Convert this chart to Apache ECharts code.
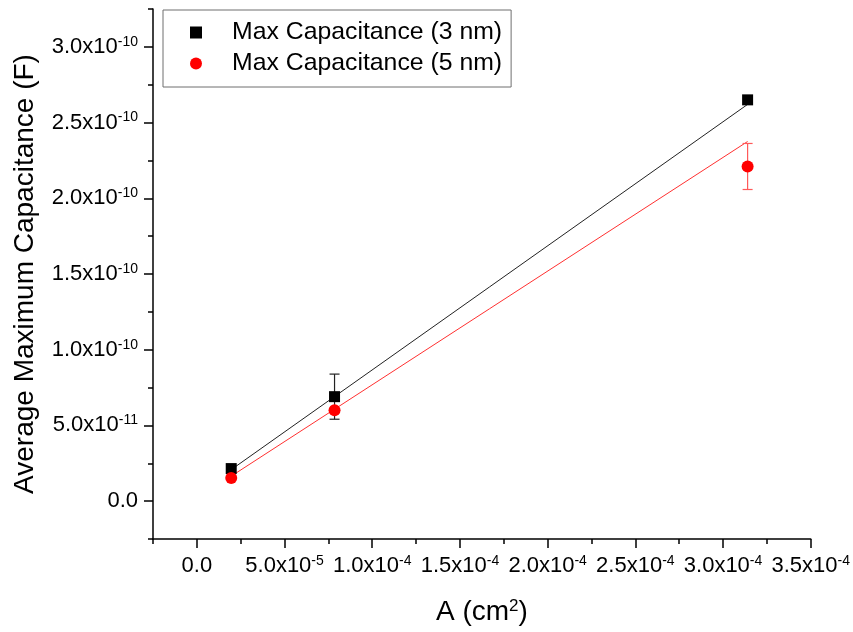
<!DOCTYPE html>
<html><head><meta charset="utf-8">
<script src="https://cdn.jsdelivr.net/npm/echarts@6/dist/echarts.min.js"></script>
<style>html,body{margin:0;padding:0;background:#fff}#c{width:853px;height:632px}</style>
</head><body><div id="c"></div>
<script>
// ---- data ----
const seriesNames = ['Max Capacitance (3 nm)', 'Max Capacitance (5 nm)'];
const areas = [1.96e-5, 7.85e-5, 3.14e-4];
const cap3nm = [2.15e-11, 6.9e-11, 2.65e-10];
const cap5nm = [1.53e-11, 6.0e-11, 2.21e-10];
const err3nm = [0, 1.49e-11, 0];
const err5nm = [0, 0, 1.52e-11];
const fitX = [1.96e-5, 3.14e-4];
const fit3nm = [2.08e-11, 2.62e-10];
const fit5nm = [1.65e-11, 2.375e-10];
const xMajorTicks = [0, 5e-5, 1e-4, 1.5e-4, 2e-4, 2.5e-4, 3e-4, 3.5e-4];
const xMinorTicks = [-2.5e-5, 2.5e-5, 7.5e-5, 1.25e-4, 1.75e-4, 2.25e-4, 2.75e-4, 3.25e-4];
const yMajorTicks = [0, 5e-11, 1e-10, 1.5e-10, 2e-10, 2.5e-10, 3e-10];
const yMinorTicks = [-2.5e-11, 2.5e-11, 7.5e-11, 1.25e-10, 1.75e-10, 2.25e-10, 2.75e-10, 3.25e-10];
const xTitle = 'A (cm{s|2})';
const yTitle = 'Average Maximum Capacitance (F)';

// ---- helpers ----
const FONT = 'Liberation Sans, Arial, sans-serif';
function sci(v) {
  if (Math.abs(v) < 1e-20) return '{m|0.0}';
  const e = Math.floor(Math.log10(Math.abs(v)) + 1e-9);
  const m = v / Math.pow(10, e);
  return '{m|' + m.toFixed(1) + 'x10}{e|' + e + '}';
}
const labelRich = {
  m: {fontSize: 22, fontFamily: FONT, color: '#000', lineHeight: 24},
  e: {fontSize: 14, fontFamily: FONT, color: '#000', verticalAlign: 'top', lineHeight: 14}
};
const axisLineStyle = {color: '#000', width: 1.5};
function errData(vals, errs) {
  const out = [];
  areas.forEach((x, i) => { if (errs[i] > 0) out.push([x, vals[i] - errs[i], vals[i] + errs[i]]); });
  return out;
}
function errRender(color) {
  return function (params, api) {
    const lo = api.coord([api.value(0), api.value(1)]);
    const hi = api.coord([api.value(0), api.value(2)]);
    const w = 5;
    const st = {stroke: color, lineWidth: 1.2};
    return {type: 'group', children: [
      {type: 'line', shape: {x1: lo[0], y1: lo[1], x2: hi[0], y2: hi[1]}, style: st},
      {type: 'line', shape: {x1: lo[0] - w, y1: lo[1], x2: lo[0] + w, y2: lo[1]}, style: st},
      {type: 'line', shape: {x1: hi[0] - w, y1: hi[1], x2: hi[0] + w, y2: hi[1]}, style: st}
    ]};
  };
}

const chart = echarts.init(document.getElementById('c'), null, {renderer: 'canvas'});
const xMin = -2.5e-5, xMax = 3.5e-4, yMin = -2.5e-11, yMax = 3.25e-10;
chart.setOption({
  animation: false,
  backgroundColor: '#fff',
  grid: {left: 153, right: 42, top: 9, bottom: 93},
  legend: {
    orient: 'vertical', left: 163, top: 10,
    padding: [10, 9, 11, 27], itemGap: 6, itemWidth: 62, itemHeight: 12,
    borderColor: '#6f6f6f', borderWidth: 1,
    textStyle: {fontSize: 24.8, fontFamily: FONT, color: '#000', lineHeight: 24},
    data: [
      {name: seriesNames[0], icon: 'path://M0,0H10V10H0Z', itemStyle: {color: '#000'}},
      {name: seriesNames[1], icon: 'circle', itemStyle: {color: '#ff0000'}}
    ]
  },
  xAxis: [
    {
      type: 'value', min: xMin, max: xMax, position: 'bottom',
      axisLine: {onZero: false, lineStyle: axisLineStyle},
      axisTick: {customValues: xMajorTicks, length: 9, lineStyle: axisLineStyle},
      axisLabel: {customValues: xMajorTicks, formatter: sci, margin: 15, rich: labelRich},
      splitLine: {show: false},
      name: xTitle, nameLocation: 'middle', nameGap: 59,
      nameTextStyle: {fontSize: 28, fontFamily: FONT, color: '#000',
        rich: {s: {fontSize: 17, fontFamily: FONT, color: '#000', verticalAlign: 'top', lineHeight: 17}}}
    },
    {
      type: 'value', min: xMin, max: xMax, position: 'bottom',
      axisLine: {show: false, onZero: false},
      axisTick: {customValues: xMinorTicks, length: 5, lineStyle: axisLineStyle},
      axisLabel: {show: false}, splitLine: {show: false}
    }
  ],
  yAxis: [
    {
      type: 'value', min: yMin, max: yMax, position: 'left',
      axisLine: {onZero: false, lineStyle: axisLineStyle},
      axisTick: {customValues: yMajorTicks, length: 9, lineStyle: axisLineStyle},
      axisLabel: {customValues: yMajorTicks, formatter: sci, margin: 15, rich: labelRich},
      splitLine: {show: false},
      name: yTitle, nameLocation: 'middle', nameGap: 114,
      nameTextStyle: {fontSize: 28, fontFamily: FONT, color: '#000'}
    },
    {
      type: 'value', min: yMin, max: yMax, position: 'left',
      axisLine: {show: false, onZero: false},
      axisTick: {customValues: yMinorTicks, length: 5, lineStyle: axisLineStyle},
      axisLabel: {show: false}, splitLine: {show: false}
    }
  ],
  series: [
    {type: 'line', name: 'fit3', data: fitX.map((x, i) => [x, fit3nm[i]]), symbol: 'none',
      lineStyle: {color: '#222', width: 1}, silent: true, z: 1},
    {type: 'line', name: 'fit5', data: fitX.map((x, i) => [x, fit5nm[i]]), symbol: 'none',
      lineStyle: {color: '#ff3030', width: 1}, silent: true, z: 1},
    {type: 'custom', name: 'err3', data: errData(cap3nm, err3nm), renderItem: errRender('#222'), z: 2},
    {type: 'custom', name: 'err5', data: errData(cap5nm, err5nm), renderItem: errRender('#ff5a5a'), z: 2},
    {type: 'scatter', name: seriesNames[0], data: areas.map((x, i) => [x, cap3nm[i]]),
      symbol: 'rect', symbolSize: 11, itemStyle: {color: '#000', opacity: 1}, z: 5},
    {type: 'scatter', name: seriesNames[1], data: areas.map((x, i) => [x, cap5nm[i]]),
      symbol: 'circle', symbolSize: 12, itemStyle: {color: '#ff0000', opacity: 1}, z: 6}
  ]
});
</script>
</body></html>
